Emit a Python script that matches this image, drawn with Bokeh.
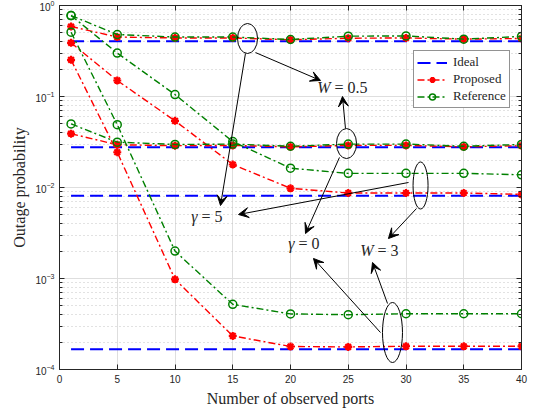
from bokeh.plotting import figure
from bokeh.models import (FixedTicker, LinearAxis, LogAxis, Arrow, VeeHead, Label,
                          Legend, LegendItem)
from bokeh.embed import file_html
from bokeh.resources import INLINE

# ---------------- data ----------------
ports = [1, 5, 10, 15, 20, 25, 30, 35, 40]

# Proposed (red)
prop_1 = [0.588, 0.45, 0.44, 0.44, 0.42, 0.437, 0.44, 0.427, 0.434]
prop_2 = [0.389, 0.15, 0.054, 0.0179, 0.0098, 0.0087, 0.0087, 0.0087, 0.0084]
prop_3 = [0.253, 0.0244, 9.8e-4, 2.34e-4, 1.79e-4, 1.77e-4, 1.8e-4, 1.8e-4, 1.8e-4]
prop_4 = [0.039, 0.0295, 0.0288, 0.029, 0.028, 0.029, 0.029, 0.028, 0.0288]

# Reference (green)
ref_1 = [0.776, 0.48, 0.45, 0.45, 0.423, 0.46, 0.463, 0.427, 0.457]
ref_2 = [0.776, 0.30, 0.105, 0.032, 0.0163, 0.0143, 0.0143, 0.0143, 0.0138]
ref_3 = [0.509, 0.049, 2.0e-3, 5.2e-4, 4.08e-4, 4.0e-4, 4.1e-4, 4.1e-4, 4.1e-4]
ref_4 = [0.050, 0.0315, 0.0297, 0.030, 0.0284, 0.030, 0.030, 0.0284, 0.0297]

# Ideal (blue) levels
ideal_levels = [0.405, 0.0277, 0.0081, 1.67e-4]

x_ticks = [0, 5, 10, 15, 20, 25, 30, 35, 40]
y_ticks = [1e-4, 1e-3, 1e-2, 1e-1, 1.0]
y_minor = [m * 10.0 ** k for k in range(-4, 0) for m in range(2, 10)]

# annotations (data coordinates)
ell_x = [16.28, 24.85, 31.26, 28.83]
ell_y = [0.434, 0.0304, 0.01052, 2.55e-4]
ell_w = [20, 20, 15, 20]
ell_h = [30, 30, 47, 60]

arr_x0 = [16.10, 16.97, 24.76, 24.24, 30.22, 30.91, 27.79, 28.40]
arr_y0 = [0.297, 0.304, 0.0445, 0.0214, 0.01135, 0.00588, 2.55e-4, 5.31e-4]
arr_x1 = [13.94, 22.60, 24.50, 21.30, 15.50, 28.48, 21.99, 27.10]
arr_y1 = [0.00634, 0.150, 0.100, 0.00312, 0.00505, 0.00275, 0.00166, 0.00150]

lab_sym = ["W", "\u03b3", "\u03b3", "W"]
lab_rest = ["= 0.5", "= 5", "= 0", "= 3"]
lab_x = [23.64, 12.12, 20.52, 27.36]
lab_y = [0.1256, 0.0048, 0.00243, 0.00203]

# ---------------- figure ----------------
AX = "#262626"
p = figure(width=534, height=413, y_axis_type="log", x_range=(0, 40), y_range=(1e-4, 1.0),
           output_backend="svg", toolbar_location=None,
           min_border_left=59, min_border_right=13, min_border_top=5, min_border_bottom=44)
p.background_fill_color = "white"
p.border_fill_color = "white"
p.outline_line_color = AX
p.outline_line_width = 1

# grids
p.xgrid.grid_line_color = "#dedede"
p.ygrid.grid_line_color = "#dedede"
p.ygrid.minor_grid_line_color = "#c4c4c4"
p.ygrid.minor_grid_line_dash = "1 3"

# axes
xt = FixedTicker(ticks=x_ticks)
yt = FixedTicker(ticks=y_ticks, minor_ticks=y_minor)
p.xaxis.ticker = xt
p.yaxis.ticker = yt
for ax in (p.xaxis[0], p.yaxis[0]):
    ax.axis_line_color = AX
    ax.major_tick_line_color = AX
    ax.minor_tick_line_color = AX
    ax.major_tick_in = 5
    ax.major_tick_out = 0
    ax.minor_tick_in = 3
    ax.minor_tick_out = 0
    ax.major_label_text_font = "Liberation Sans"
    ax.major_label_text_font_size = "10px"
    ax.major_label_text_color = AX
    ax.axis_label_text_font = "Liberation Serif"
    ax.axis_label_text_font_size = "16px"
    ax.axis_label_text_font_style = "normal"
    ax.axis_label_text_color = AX
p.xaxis.minor_tick_in = 0
p.xaxis.axis_label = "Number of observed ports"
p.yaxis.axis_label = "Outage probability"
p.xaxis.major_label_standoff = 5
p.yaxis.major_label_standoff = 5
p.xaxis.axis_label_standoff = 4
p.yaxis.axis_label_standoff = 4

top = LinearAxis(ticker=FixedTicker(ticks=x_ticks), major_label_text_font_size="1px",
                 major_label_text_alpha=0, major_label_standoff=0,
                 major_tick_in=5, major_tick_out=0,
                 minor_tick_in=0, minor_tick_out=0, axis_line_color=AX,
                 major_tick_line_color=AX)
right = LogAxis(ticker=FixedTicker(ticks=y_ticks, minor_ticks=y_minor),
                major_label_text_font_size="1px", major_label_text_alpha=0,
                major_label_standoff=0,
                major_tick_in=5, major_tick_out=0, minor_tick_in=3, minor_tick_out=0,
                axis_line_color=AX, major_tick_line_color=AX, minor_tick_line_color=AX)
p.add_layout(top, "above")
p.add_layout(right, "right")

# ---------------- series ----------------
BLUE, RED, GREEN = "#0000ff", "#ff0000", "#008000"
ideal_x = [ports[0], ports[-1]]
blue_r = []
for lv in ideal_levels:
    blue_r.append(p.line(ideal_x, [lv, lv], line_color=BLUE, line_width=2, line_dash="13 6"))

red_r = []
for ys in (prop_1, prop_2, prop_3, prop_4):
    l = p.line(ports, ys, line_color=RED, line_width=1.4, line_dash="7 3 2 3")
    s = p.scatter(ports, ys, marker="asterisk", size=8, line_color=RED, line_width=2.2)
    red_r.append((l, s))

green_r = []
for ys in (ref_1, ref_2, ref_3, ref_4):
    l = p.line(ports, ys, line_color=GREEN, line_width=1.4, line_dash="7 3 2 3")
    s = p.scatter(ports, ys, marker="circle", size=8, line_color=GREEN, line_width=1.5,
                  fill_color=None)
    green_r.append((l, s))

# ---------------- annotations ----------------
p.ellipse(x=ell_x, y=ell_y, width=ell_w, height=ell_h, width_units="screen",
          height_units="screen", fill_color=None, line_color="black", line_width=1)

for x0, y0, x1, y1 in zip(arr_x0, arr_y0, arr_x1, arr_y1):
    p.add_layout(Arrow(x_start=x0, y_start=y0, x_end=x1, y_end=y1, line_color="black",
                       line_width=1,
                       end=VeeHead(size=10, fill_color="black", line_color="black",
                                   line_width=1)))

for s, r, x, y in zip(lab_sym, lab_rest, lab_x, lab_y):
    p.add_layout(Label(x=x, y=y, text=s, x_offset=-2, text_align="right",
                       text_baseline="middle", text_font="Liberation Serif",
                       text_font_size="16px", text_font_style="italic",
                       text_color="#262626"))
    p.add_layout(Label(x=x, y=y, text=r, x_offset=2, text_align="left",
                       text_baseline="middle", text_font="Liberation Serif",
                       text_font_size="16px", text_color="#262626"))

# ---------------- legend ----------------
legend = Legend(items=[
    LegendItem(label="Ideal", renderers=[blue_r[0]]),
    LegendItem(label="Proposed", renderers=list(red_r[0])),
    LegendItem(label="Reference", renderers=list(green_r[0])),
], location=(354, 261))
legend.border_line_color = AX
legend.border_line_width = 1
legend.background_fill_alpha = 1
legend.label_text_font = "Liberation Serif"
legend.label_text_font_size = "13px"
legend.label_text_color = AX
legend.glyph_width = 30
legend.glyph_height = 15
legend.label_height = 15
legend.spacing = 1
legend.padding = 3
legend.margin = 0
legend.label_standoff = 6
p.add_layout(legend)

open("out.html", "w").write(file_html(p, INLINE))
